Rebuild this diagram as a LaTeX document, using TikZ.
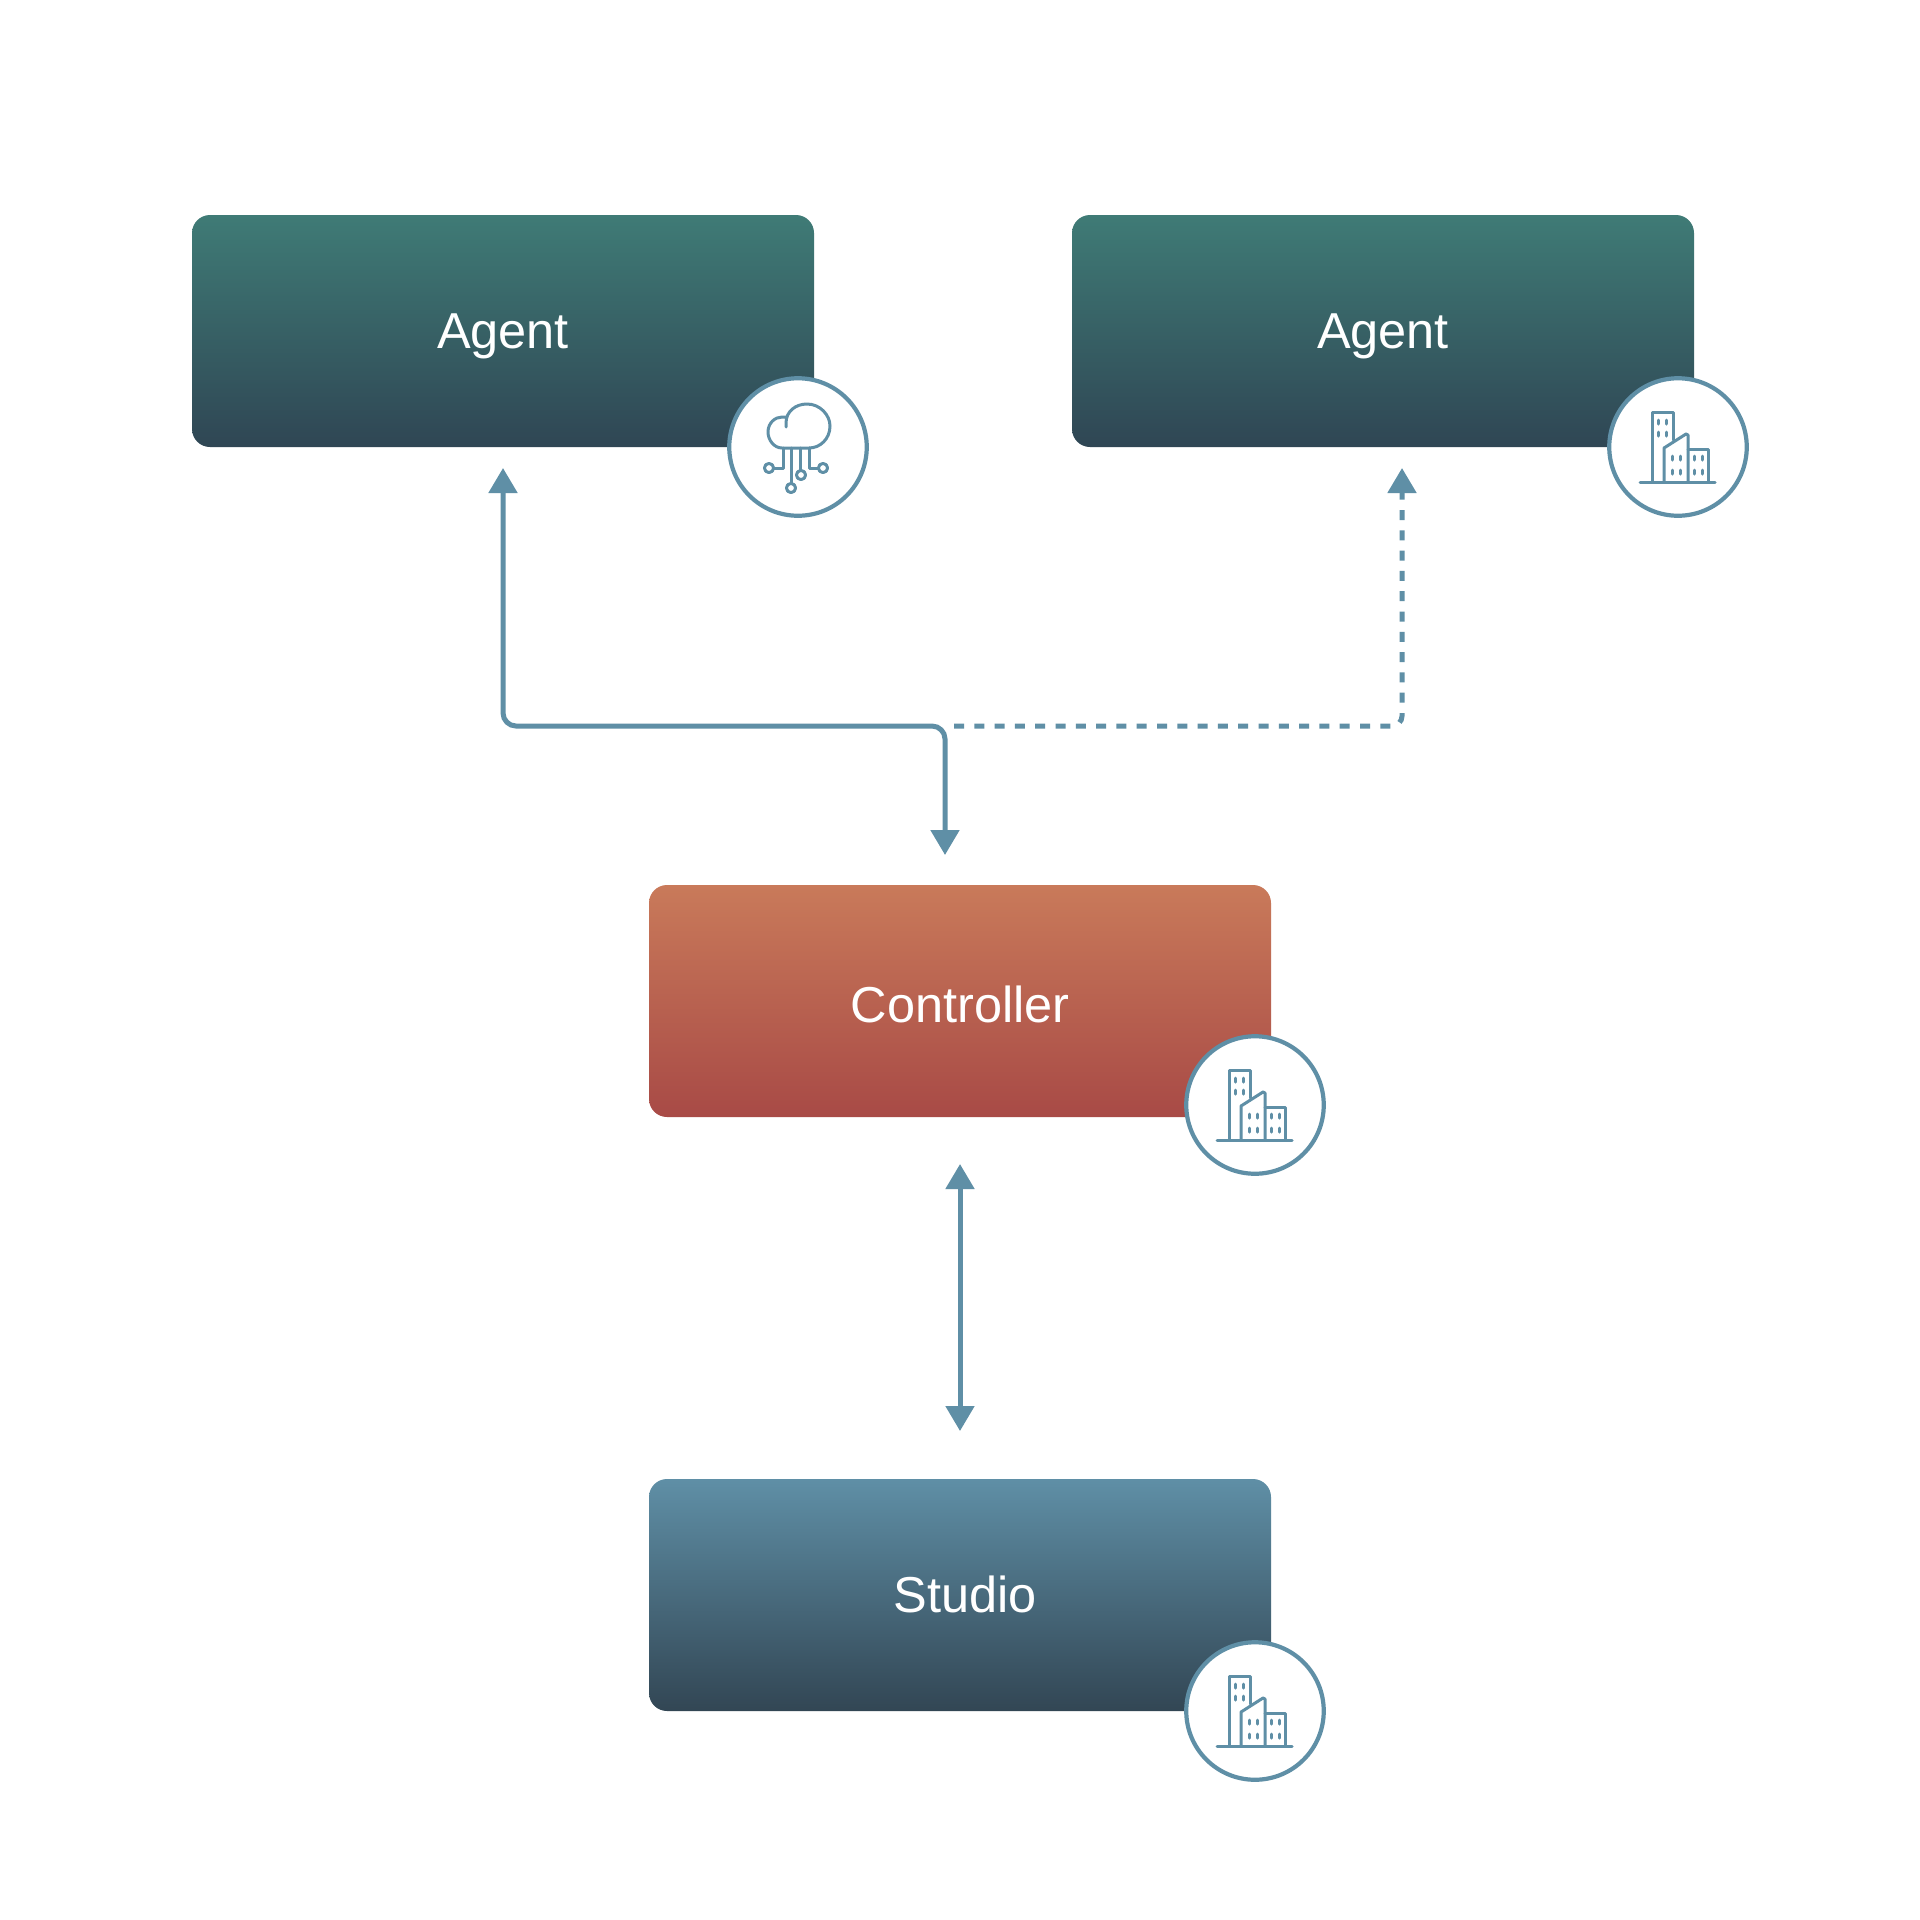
\documentclass[tikz,border=0pt]{standalone}
\usepackage{fontspec}
\setmainfont{Liberation Sans}
\usetikzlibrary{arrows.meta}
\definecolor{flowc}{HTML}{5F8FA6}
\definecolor{agtop}{HTML}{3F7B76}
\definecolor{agbot}{HTML}{2F4654}
\definecolor{cttop}{HTML}{C97A5A}
\definecolor{ctbot}{HTML}{A84A46}
\definecolor{sttop}{HTML}{5F8FA6}
\definecolor{stbot}{HTML}{324654}
\tikzset{
  x=1pt,y=-1pt,
  box/.style={minimum width=622pt,minimum height=232pt,inner sep=0pt,outer sep=0pt,rounded corners=18pt,text=white,font=\fontsize{50.5}{54}\selectfont,text depth=0pt},
  agentbox/.style={box,top color=agtop,bottom color=agbot,text height=34pt},
  ctrlbox/.style={box,top color=cttop,bottom color=ctbot,text height=42pt},
  studiobox/.style={box,top color=sttop,bottom color=stbot,text height=34pt},
  badge/.style={circle,draw=flowc,fill=white,line width=4.2pt,minimum size=137.5pt,inner sep=0pt,outer sep=0pt},
  flow/.style={draw=flowc,line width=5pt},
  tip/.style={{Triangle[length=25pt,width=28pt,fill=flowc]}-{Triangle[length=25pt,width=28pt,fill=flowc]}},
  tipend/.style={-{Triangle[length=25pt,width=28pt,fill=flowc]}},
  iconline/.style={draw=flowc,line width=3pt,line cap=round,line join=round},
  cloudicon/.pic={
    \draw[iconline] (-12,-20) -- (-12,-24) .. controls (-12,-36) and (-2,-43) .. (9,-43)
      .. controls (22,-43) and (32,-32) .. (32,-21) .. controls (32,-8) and (22,1) .. (11,1)
      -- (-16,1) .. controls (-24,1) and (-30,-7) .. (-30,-15) .. controls (-30,-24) and (-23,-30) .. (-16,-30) -- (-11,-30);
    \draw[iconline] (-15,1) -- (-15,21) -- (-24,21);
    \draw[iconline] (-29,21) circle[radius=4.6];
    \draw[iconline] (-6.5,1) -- (-6.5,36);
    \draw[iconline] (-7,41) circle[radius=4.6];
    \draw[iconline] (2,1) -- (2,23);
    \draw[iconline] (3,28) circle[radius=4.6];
    \draw[iconline] (11,1) -- (11,21) -- (20,21);
    \draw[iconline] (25,21) circle[radius=4.6];
  },
  cityicon/.pic={
    \draw[iconline] (-38,35) -- (37,35);
    \draw[iconline] (-26,35) -- (-26,-35) -- (-5,-35) -- (-5,-7);
    \draw[iconline] (-14,35) -- (-14,1) -- (8,-13) -- (10,-12) -- (10,35);
    \draw[iconline] (10,2) -- (30,2) -- (30,35);
    \foreach \wx in {-20,-12} \foreach \wy in {-27,-15} \draw[iconline] (\wx,\wy) -- (\wx,\wy+4);
    \foreach \wx in {-6,2,16,24} \foreach \wy in {9,23} \draw[iconline] (\wx,\wy) -- (\wx,\wy+4);
  }
}
\begin{document}
\begin{tikzpicture}
\useasboundingbox[fill=white] (0,0) rectangle (1920,1920);
\node[agentbox] (agentA) at (503,331) {Agent};
\node[agentbox] (agentB) at (1383,331) {Agent};
\node[ctrlbox] (ctrl) at (960,1001) {Controller};
\node[studiobox] (studio) at (960,1595) {\hspace{10pt}Studio};
\coordinate (junction) at (945,726);
\coordinate (dashstart) at (954,726);
\coordinate (portB) at (1402,447);
\draw[flow,tip,rounded corners=13pt,shorten <=21pt,shorten >=30pt] (agentA.south) |- (junction) -- (junction |- ctrl.north);
\draw[flow,tipend,rounded corners=10pt,dash pattern=on 10pt off 10.3pt,shorten >=21pt] (dashstart) -| (portB);
\draw[flow,tip,shorten <=47pt,shorten >=48pt] (ctrl.south) -- (studio.north);
\node[badge] (b1) at (798,447) {};
\node[badge] (b2) at (1678,447) {};
\node[badge] (b3) at (1255,1105) {};
\node[badge] (b4) at (1255,1711) {};
\pic at (b1) {cloudicon};
\pic at (b2) {cityicon};
\pic at (b3) {cityicon};
\pic at (b4) {cityicon};
\end{tikzpicture}
\end{document}
